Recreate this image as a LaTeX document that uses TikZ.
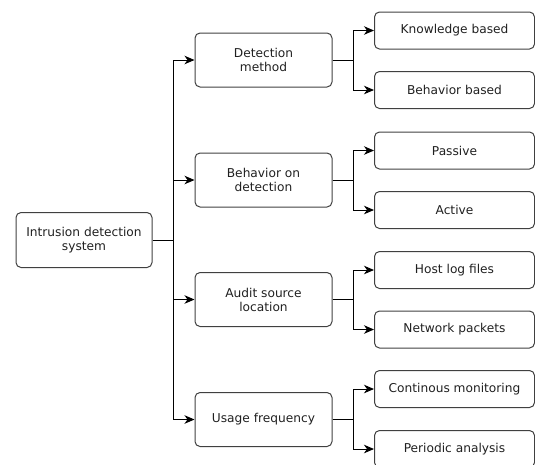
\documentclass[tikz,border=0pt]{standalone}
\usepackage{fontspec}
\setmainfont{DejaVu Sans}
\usetikzlibrary{arrows.meta}
\definecolor{edge}{HTML}{404040}
\definecolor{txt}{HTML}{202020}
\begin{document}
\begin{tikzpicture}[x=1pt,y=-1pt,
  box/.style={draw=edge, line width=1pt, rounded corners=5pt, align=center,
    text=txt, font=\fontsize{12.2}{14}\selectfont, inner sep=0pt},
  rootbox/.style={box, minimum width=136pt, minimum height=55pt},
  midbox/.style={box, minimum width=137pt, minimum height=54pt},
  leafbox/.style={box, minimum width=160pt, minimum height=37pt},
  arr/.style={draw=black, line width=1pt, -{Stealth[length=10pt,width=8.5pt,inset=3pt]}},
  ln/.style={draw=black, line width=1pt}]
\useasboundingbox (0,0) rectangle (535,464);

\node[rootbox] (root) at (84,240) {Intrusion detection\\system};

\node[midbox] (m1) at (263.5,60) {Detection\\method};
\node[midbox] (m2) at (263.5,180) {Behavior on\\detection};
\node[midbox] (m3) at (263.5,299.5) {Audit source\\location};
\node[midbox] (m4) at (263.5,419.5) {Usage frequency};

\node[leafbox] (l1) at (454.5,30.5) {Knowledge based};
\node[leafbox] (l2) at (454.5,90) {Behavior based};
\node[leafbox] (l3) at (454.5,150.5) {Passive};
\node[leafbox] (l4) at (454.5,210) {Active};
\node[leafbox] (l5) at (454.5,270) {Host log files};
\node[leafbox] (l6) at (454.5,329.5) {Network packets};
\node[leafbox] (l7) at (454.5,389) {Continous monitoring};
\node[leafbox] (l8) at (454.5,449) {Periodic analysis};

\coordinate (trunk) at (173,240);
\draw[ln] (root.east) -- (trunk);
\foreach \m in {m1,m2,m3,m4} {
  \draw[arr] (trunk) |- (\m.west);
}
\foreach \m/\a/\b in {m1/l1/l2, m2/l3/l4, m3/l5/l6, m4/l7/l8} {
  \draw[arr] (\m.east) -- ++(21,0) |- (\a.west);
  \draw[arr] (\m.east) -- ++(21,0) |- (\b.west);
}
\end{tikzpicture}
\end{document}
